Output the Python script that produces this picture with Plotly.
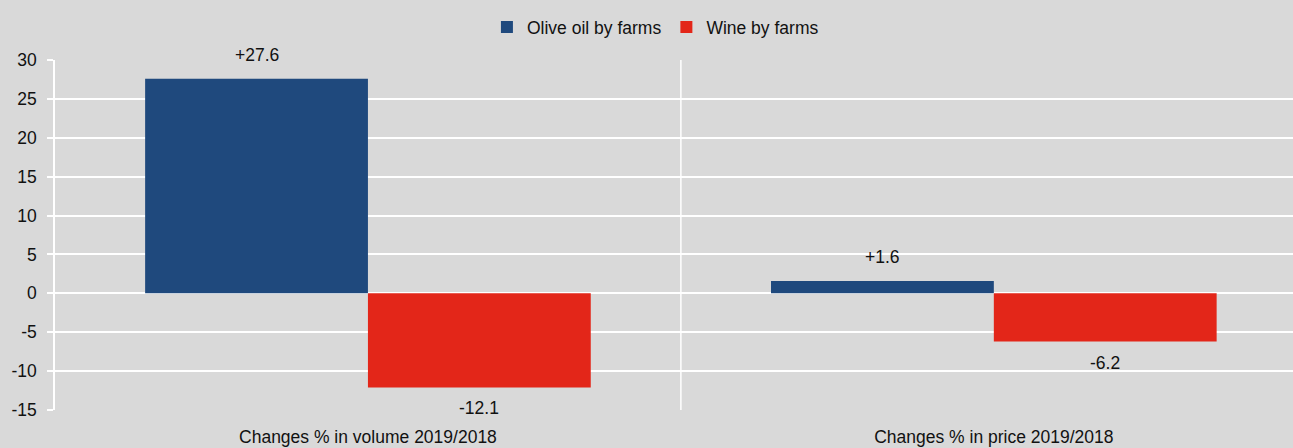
import plotly.graph_objects as go

categories = ["Changes % in volume 2019/2018", "Changes % in price 2019/2018"]
olive_oil = [27.6, 1.6]
wine = [-12.1, -6.2]
olive_labels = ["+27.6", "+1.6"]
wine_labels = ["-12.1", "-6.2"]
y_ticks = [-15, -10, -5, 0, 5, 10, 15, 20, 25, 30]
y_tick_text = ["-15", "-10", "-5", "0", "5", "10", "15", "20", "25", "30"]

BG = "#d9d9d9"
FONT = "Liberation Sans, Arial, sans-serif"
FS = 17.5

fig = go.Figure()
fig.add_trace(go.Bar(
    name="Olive oil by farms", x=categories, y=olive_oil,
    marker=dict(color="#1f497d", line=dict(width=0)),
))
fig.add_trace(go.Bar(
    name="Wine by farms", x=categories, y=wine,
    marker=dict(color="#e32619", line=dict(width=0)),
))

# data labels, placed through the axes' own scales
for i, (v, t) in enumerate(zip(olive_oil, olive_labels)):
    fig.add_annotation(x=i - 0.178, y=v, text=t, showarrow=False, yanchor="middle",
                       yshift=24, font=dict(size=FS, color="#111111"))
for i, (v, t) in enumerate(zip(wine, wine_labels)):
    fig.add_annotation(x=i + 0.178, y=v, text=t, showarrow=False, yanchor="middle",
                       yshift=-21, font=dict(size=FS, color="#111111"))

fig.add_shape(type="line", xref="x", yref="paper", x0=0.5, x1=0.5, y0=0, y1=1,
              line=dict(color="white", width=1.5), layer="below")

fig.update_layout(
    width=1293, height=448,
    paper_bgcolor=BG, plot_bgcolor=BG,
    margin=dict(l=55, r=0, t=60, b=38),
    barmode="group", bargap=0.288, bargroupgap=0,
    font=dict(family=FONT, size=FS, color="#111111"),
    showlegend=True,
    legend=dict(orientation="h", x=0.485, xanchor="center", y=1.094, yanchor="middle",
                bgcolor="rgba(0,0,0,0)", font=dict(size=FS), itemwidth=30),
    xaxis=dict(range=[-0.5, 1.478], showgrid=False, zeroline=False, showline=False,
               ticks="", ticklabelstandoff=14, tickfont=dict(size=FS)),
    yaxis=dict(range=[-15, 30], tickvals=y_ticks, ticktext=y_tick_text, showgrid=True,
               gridcolor="white", gridwidth=1.5, zeroline=False, showline=True,
               linecolor="white", linewidth=1.5,
               ticks="outside", ticklen=6, tickcolor="white", tickwidth=1.5,
               tickfont=dict(size=FS), ticklabelstandoff=7),
)

fig.write_html("out.html")
